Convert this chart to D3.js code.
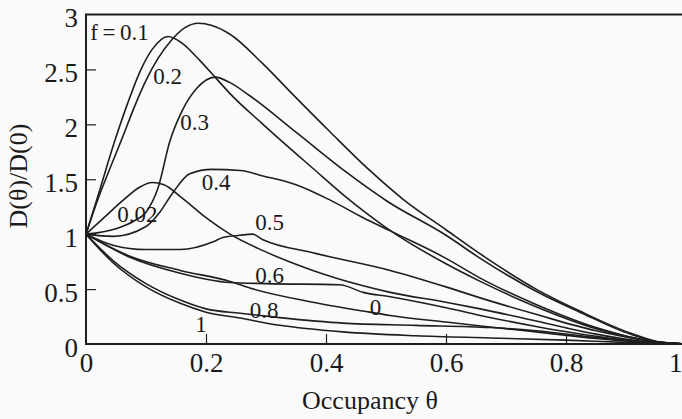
<!DOCTYPE html>
<html>
<head>
<meta charset="utf-8">
<script src="https://cdn.jsdelivr.net/npm/d3@7/dist/d3.min.js"></script>
<style>
  html, body { margin: 0; padding: 0; background: #fafafa; }
  svg { display: block; }
  svg text { font-family: "Liberation Serif", "Times New Roman", Times, "DejaVu Serif", serif; fill: #1a1a1a; }
</style>
</head>
<body>
<svg id="chart" width="682" height="419"></svg>
<script>
// Normalised diffusion coefficient D(θ)/D(0) against occupancy θ, one curve per f
const xTicks = [0, 0.2, 0.4, 0.6, 0.8, 1];
const yTicks = [0, 0.5, 1, 1.5, 2, 2.5, 3];

const curveF01 = [[0,1],[0.02,1.32],[0.04,1.6],[0.06,1.87],[0.08,2.15],[0.1,2.4],[0.12,2.6],[0.143,2.77],[0.165,2.88],[0.187,2.92],[0.21,2.9],[0.24,2.82],[0.295,2.55],[0.345,2.27],[0.407,1.93],[0.473,1.58],[0.528,1.32],[0.6,1.04],[0.657,0.82],[0.75,0.5],[0.823,0.3],[0.907,0.1],[0.96,0.015],[1,0]];
const curveF02 = [[0,1],[0.02,1.35],[0.048,1.85],[0.07,2.2],[0.09,2.48],[0.11,2.68],[0.137,2.8],[0.16,2.74],[0.19,2.58],[0.215,2.43],[0.24,2.28],[0.295,2.0],[0.378,1.6],[0.435,1.33],[0.5,1.06],[0.6,0.73],[0.657,0.57],[0.75,0.34],[0.85,0.14],[0.95,0.02],[1,0]];
const curveF03 = [[0,1],[0.05,1.05],[0.08,1.12],[0.1,1.2],[0.12,1.42],[0.14,1.85],[0.16,2.12],[0.185,2.33],[0.215,2.43],[0.24,2.38],[0.273,2.26],[0.352,1.92],[0.435,1.56],[0.502,1.3],[0.6,0.99],[0.657,0.78],[0.75,0.48],[0.823,0.29],[0.907,0.09],[0.96,0.012],[1,0]];
const curveF002 = [[0,1],[0.03,1.15],[0.06,1.3],[0.09,1.43],[0.11,1.47],[0.13,1.45],[0.16,1.33],[0.2,1.15],[0.24,1.0],[0.295,0.85],[0.378,0.67],[0.462,0.53],[0.507,0.47],[0.6,0.38],[0.657,0.32],[0.75,0.21],[0.85,0.09],[0.95,0.01],[1,0]];
const curveF04 = [[0,1],[0.045,0.98],[0.1,1.07],[0.123,1.2],[0.145,1.38],[0.173,1.55],[0.21,1.59],[0.257,1.58],[0.295,1.53],[0.35,1.45],[0.407,1.31],[0.462,1.15],[0.507,1.03],[0.6,0.78],[0.657,0.6],[0.75,0.36],[0.85,0.15],[0.95,0.02],[1,0]];
const curveF05 = [[0,1],[0.045,0.9],[0.1,0.86],[0.157,0.86],[0.212,0.93],[0.228,0.97],[0.257,0.99],[0.277,1.0],[0.295,0.95],[0.378,0.83],[0.507,0.67],[0.6,0.52],[0.657,0.42],[0.75,0.27],[0.85,0.12],[0.95,0.02],[1,0]];
const curveF06 = [[0,1],[0.073,0.79],[0.157,0.645],[0.24,0.56],[0.3,0.55],[0.423,0.54],[0.462,0.47],[0.507,0.43],[0.6,0.33],[0.657,0.26],[0.75,0.16],[0.85,0.07],[0.95,0.01],[1,0]];
const curveF0 = [[0,1],[0.073,0.8],[0.157,0.67],[0.24,0.57],[0.273,0.51],[0.378,0.38],[0.473,0.29],[0.507,0.26],[0.6,0.2],[0.673,0.155],[0.75,0.11],[0.85,0.05],[0.95,0.01],[1,0]];
const curveF08 = [[0,1],[0.045,0.76],[0.1,0.55],[0.157,0.4],[0.2,0.32],[0.257,0.28],[0.323,0.24],[0.428,0.19],[0.55,0.17],[0.673,0.15],[0.75,0.12],[0.85,0.06],[0.95,0.01],[1,0]];
const curveF1 = [[0,1],[0.045,0.74],[0.1,0.52],[0.157,0.37],[0.2,0.29],[0.257,0.236],[0.323,0.17],[0.428,0.11],[0.55,0.075],[0.673,0.055],[0.8,0.035],[0.9,0.015],[1,0]];

const curves = [curveF01, curveF02, curveF03, curveF002, curveF04, curveF05, curveF06, curveF0, curveF08, curveF1];

// Curve labels: text and the (θ, D) point of its baseline start
const labelTexts = ["f\u2009=\u20090.1", "0.2", "0.3", "0.02", "0.4", "0.5", "0.6", "0", "0.8", "1"];
const labelPos = [[0.007,2.77],[0.112,2.37],[0.157,1.95],[0.052,1.11],[0.193,1.4],[0.282,1.04],[0.282,0.555],[0.473,0.263],[0.273,0.236],[0.182,0.11]];

const svg = d3.select("#chart");
const margin = { left: 86, top: 14.5 };
const x = d3.scaleLinear().domain([0, 1]).range([margin.left, margin.left + 600]);
const y = d3.scaleLinear().domain([0, 3]).range([344, margin.top]);

const ink = "#1e1e1e";
const serif = '"Liberation Serif", "Times New Roman", Times, "DejaVu Serif", serif';

// Frame
svg.append("rect")
  .attr("x", x(0)).attr("y", y(3))
  .attr("width", x(1) - x(0)).attr("height", y(0) - y(3))
  .attr("fill", "none").attr("stroke", ink).attr("stroke-width", 2);

// Axes with inward ticks
const xAxis = d3.axisBottom(x).tickValues(xTicks).tickSize(-10).tickSizeOuter(0)
  .tickFormat(d => d3.format("")(d));
const gx = svg.append("g").attr("transform", `translate(0,${y(0)})`).call(xAxis)
  .attr("font-family", serif);
gx.select(".domain").remove();
gx.selectAll(".tick line").attr("stroke", ink).attr("stroke-width", 1.2)
  .filter(d => d === 0 || d === 1).remove();
gx.selectAll(".tick text").attr("font-size", 27).attr("fill", ink)
  .attr("dy", "0.78em").attr("y", 7);
// the last label sits on the window edge; keep it inside
gx.selectAll(".tick").filter(d => d === 1).select("text")
  .attr("text-anchor", "end").attr("x", 682 - x(1));

const yAxis = d3.axisLeft(y).tickValues(yTicks).tickSize(-10).tickSizeOuter(0)
  .tickFormat(d => d3.format("")(d));
const gy = svg.append("g").attr("transform", `translate(${x(0)},0)`).call(yAxis)
  .attr("font-family", serif);
gy.select(".domain").remove();
gy.selectAll(".tick line").attr("stroke", ink).attr("stroke-width", 1.2)
  .filter(d => d === 0 || d === 3).remove();
gy.selectAll(".tick text").attr("font-size", 27).attr("fill", ink)
  .attr("x", -8).attr("dy", "0.45em");

// Axis titles
svg.append("text")
  .attr("x", 370).attr("y", 409)
  .attr("text-anchor", "middle").attr("font-size", 26).attr("font-family", serif)
  .text("Occupancy θ");
svg.append("text")
  .attr("transform", `translate(27,176) rotate(-90)`)
  .attr("text-anchor", "middle").attr("font-size", 26).attr("font-family", serif)
  .text("D(θ)/D(0)");

// Curves
const line = d3.line().x(d => x(d[0])).y(d => y(d[1])).curve(d3.curveMonotoneX);
svg.append("g").selectAll("path").data(curves).join("path")
  .attr("d", line)
  .attr("fill", "none").attr("stroke", ink).attr("stroke-width", 1.6);

// Curve labels
svg.append("g").attr("font-family", serif).selectAll("text").data(labelTexts).join("text")
  .attr("x", (d, i) => x(labelPos[i][0]))
  .attr("y", (d, i) => y(labelPos[i][1]))
  .attr("font-size", 23)
  .text(d => d);
</script>
</body>
</html>
